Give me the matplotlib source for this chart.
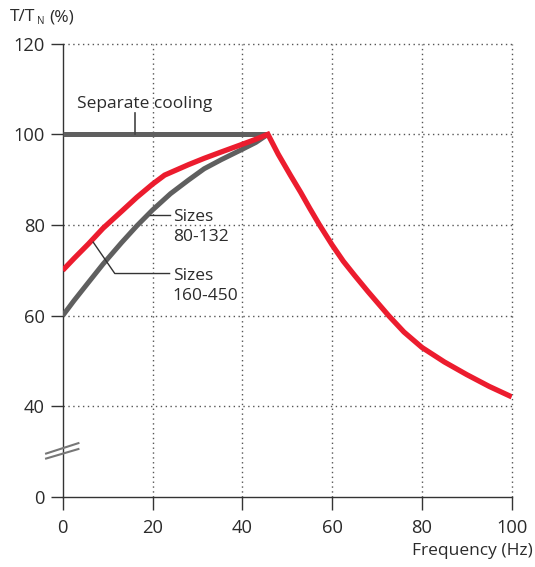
import numpy as np
import matplotlib
matplotlib.use("Agg")
import matplotlib.pyplot as plt

plt.rcParams['font.family'] = ['Open Sans', 'DejaVu Sans']

# y axis is broken: the "0" label sits where 20 would be
y_ticks = [20, 40, 60, 80, 100, 120]
y_labels = ["0", "40", "60", "80", "100", "120"]
x_ticks = [0, 20, 40, 60, 80, 100]

# separate cooling
sep_f = [0, 45.7]
sep_t = [100, 100]

# red curve (rising part + field weakening part)
red_f = [0, 2.5, 5.7, 9, 13.1, 16.5, 20, 22.7, 25, 28, 31.5, 35.3, 40, 43, 45.7,
         48, 50.7, 53, 55, 57.2, 60, 62.5, 65, 68, 72.6, 76, 80, 85, 90, 95, 100]
red_t = [70, 72.6, 75.8, 79.3, 83.0, 86.1, 89.0, 91.0, 92.0, 93.3, 94.7, 96.1, 97.8, 98.9, 100,
         95.6, 91, 87.2, 83.7, 80, 75.6, 72.0, 68.9, 65.3, 60, 56.4, 53.0, 49.8, 47.0, 44.4, 42.1]

# grey curve
grey_f = [0, 2.5, 5.7, 9, 13.1, 16.5, 20, 24, 28, 31.5, 35.3, 40, 43, 45.7]
grey_t = [60, 63.3, 67.3, 71.4, 76.1, 79.8, 83.3, 86.9, 89.9, 92.4, 94.4, 96.7, 98.2, 100]

RED = '#ec1c2e'
GREY = '#5f5f5f'
TXT = '#2b2b2b'

fig = plt.figure(figsize=(5.35, 5.67), dpi=100)
ax = fig.add_axes([0.1172, 0.1233, 0.9565 - 0.1172, 0.9231 - 0.1233])

ax.plot(sep_f, sep_t, color=GREY, lw=3.6, solid_capstyle='butt', zorder=3)
ax.plot(grey_f, grey_t, color=GREY, lw=3.6, solid_capstyle='butt',
        solid_joinstyle='round', zorder=3)
ax.plot(red_f, red_t, color=RED, lw=3.8, solid_capstyle='butt',
        solid_joinstyle='miter', zorder=4)

ax.set_xlim(0, 100)
ax.set_ylim(20, 120)
ax.set_xticks(x_ticks)
ax.set_yticks(y_ticks)
ax.set_yticklabels(y_labels)

# dotted grid, also along top and right edges
for v in [40, 60, 80, 100, 120]:
    ax.axhline(v, color='#555555', lw=1, ls=(0, (1, 2.5)), clip_on=False, zorder=1)
for v in [20, 40, 60, 80, 100]:
    ax.axvline(v, color='#555555', lw=1, ls=(0, (1, 2.5)), clip_on=False, zorder=1)

for s in ['top', 'right']:
    ax.spines[s].set_visible(False)
for s in ['left', 'bottom']:
    ax.spines[s].set_color('#333333')
    ax.spines[s].set_linewidth(1.0)

ax.tick_params(axis='both', direction='out', length=9, width=1, color='#333333',
               labelsize=13.2, labelcolor=TXT)
ax.tick_params(axis='y', pad=4)
ax.tick_params(axis='x', pad=7)

# axis break marks
ax.plot([-3.7, 3.5], [29.6, 31.9], color='#777777', lw=1.5, clip_on=False, zorder=5)
ax.plot([-3.7, 3.5], [28.5, 30.6], color='#777777', lw=1.5, clip_on=False, zorder=5)

# labels with leader lines
ax.text(3.1, 106.6, "Separate cooling", fontsize=12.5, color=TXT, va='center', ha='left')
ax.plot([16.1, 16.1], [104.6, 100], color='#444444', lw=1.2, zorder=5)

ax.text(24.5, 79.6, "Sizes\n80-132", fontsize=12.5, color=TXT, va='center', ha='left',
        linespacing=1.3)
ax.plot([19.4, 23.8], [82.2, 82.2], color='#333333', lw=1, zorder=5)

ax.text(24.5, 66.6, "Sizes\n160-450", fontsize=12.5, color=TXT, va='center', ha='left',
        linespacing=1.3)
ax.plot([6.8, 11.6, 23.8], [76.2, 69.3, 69.3], color='#333333', lw=1, zorder=5)

# y axis title with a small subscript
fig.text(10 / 535, 1 - 17 / 567, "T/T", fontsize=12.5, color=TXT, va='center', ha='left')
fig.text(37 / 535, 1 - 21 / 567, "N", fontsize=7, color=TXT, va='center', ha='left')
fig.text(49 / 535, 1 - 17 / 567, "(%)", fontsize=12.5, color=TXT, va='center', ha='left')
fig.text(533 / 535, 1 - 551 / 567, "Frequency (Hz)", fontsize=12.5, color=TXT,
         va='center', ha='right')

fig.savefig("out.png", dpi=100)
